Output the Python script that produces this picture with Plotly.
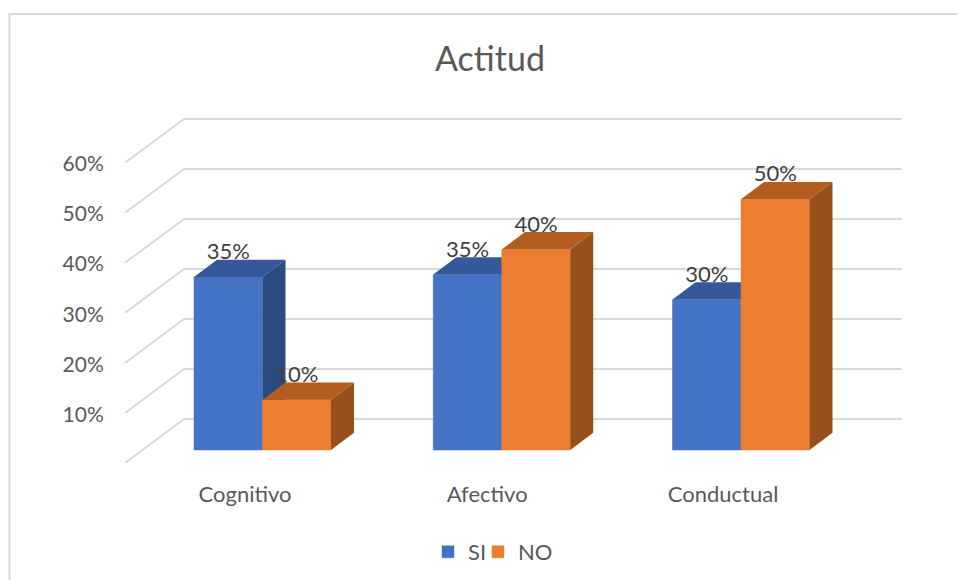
import plotly.graph_objects as go

categories = ["Cognitivo", "Afectivo", "Conductual"]
si_values = [34.5, 35, 30]
no_values = [10, 40, 50]
si_labels = ["35%", "35%", "30%"]
no_labels = ["10%", "40%", "50%"]
y_ticks = [0, 10, 20, 30, 40, 50, 60]
y_tick_labels = ["0%", "10%", "20%", "30%", "40%", "50%", "60%"]

W, H = 957, 580
PX_PER_CAT = 239.25
PX_PER_PCT = 5.015
X0_PX, Y0_PX = 262.5, 450
L_PX, R_PX, T_PX, B_PX = 125, 902, 100, 463
FONT = "Lato"
GREY = "#d9d9d9"


def dx(px):
    return px / PX_PER_CAT


def dy(px):
    return px / PX_PER_PCT


x_range = [dx(L_PX - X0_PX), dx(R_PX - X0_PX)]
y_range = [dy(Y0_PX - B_PX), dy(Y0_PX - T_PX)]
BAR_W = dx(68.5)
DEPTH_X, DEPTH_Y = dx(23), dy(17.3)
FRONT_SHIFT = dy(Y0_PX - B_PX)
BACK_SHIFT = dy(Y0_PX - 419)
BACK_X = dx(184 - X0_PX)
LABEL_DROP = dy(5)
TICK_DROP = dy(1.3)

fig = go.Figure()

# Receding gridlines: front edge, back wall
for t in y_ticks:
    fig.add_trace(go.Scatter(
        x=[x_range[0], BACK_X, x_range[1]],
        y=[t * 0.998 + FRONT_SHIFT, t * 0.997 + BACK_SHIFT, t * 0.997 + BACK_SHIFT],
        mode="lines", line=dict(color=GREY, width=2),
        showlegend=False, hoverinfo="skip", xaxis="x", yaxis="y", cliponaxis=False))


def add_series(name, values, left_offset, front, top, side, xa, ya, legend):
    fig.add_trace(go.Bar(
        x=list(range(len(values))), y=values, name=name, width=BAR_W,
        offset=left_offset, marker=dict(color=front, line=dict(color=front, width=0.5)),
        xaxis=xa, yaxis=ya, legend=legend, showlegend=True))
    tx, ty, sx, sy = [], [], [], []
    for i, v in enumerate(values):
        a = i + left_offset
        b = a + BAR_W
        tx += [a, a + DEPTH_X, b + DEPTH_X, b, a, None]
        ty += [v, v + DEPTH_Y, v + DEPTH_Y, v, v, None]
        sx += [b, b + DEPTH_X, b + DEPTH_X, b, b, None]
        sy += [0, DEPTH_Y, v + DEPTH_Y, v, 0, None]
    fig.add_trace(go.Scatter(x=tx, y=ty, mode="none", fill="toself", fillcolor=top,
                             showlegend=False, hoverinfo="skip", xaxis=xa, yaxis=ya))
    fig.add_trace(go.Scatter(x=sx, y=sy, mode="none", fill="toself", fillcolor=side,
                             showlegend=False, hoverinfo="skip", xaxis=xa, yaxis=ya))


add_series("SI", si_values, -BAR_W, "#4472C4", "#36589A", "#2B4A80", "x2", "y2", "legend")
add_series("NO", no_values, 0, "#ED7D31", "#B35D20", "#97501B", "x3", "y3", "legend2")

# Data labels sit on the top face of each bar
lab_x, lab_y, lab_t = [], [], []
for i, (v, t) in enumerate(zip(si_values, si_labels)):
    lab_x.append(i - BAR_W / 2); lab_y.append(v + DEPTH_Y - LABEL_DROP); lab_t.append(t)
for i, (v, t) in enumerate(zip(no_values, no_labels)):
    lab_x.append(i + BAR_W / 2); lab_y.append(v + DEPTH_Y - LABEL_DROP); lab_t.append(t)
fig.add_trace(go.Scatter(
    x=lab_x, y=lab_y, text=lab_t, mode="text", textposition="top center",
    textfont=dict(family=FONT, size=22, color="#404040"),
    showlegend=False, hoverinfo="skip", xaxis="x3", yaxis="y3", cliponaxis=False))

x_dom = [L_PX / W, R_PX / W]
y_dom = [1 - B_PX / H, 1 - T_PX / H]
hidden = dict(visible=False, fixedrange=True)
legend_style = dict(orientation="h", y=1 - 552 / H, xanchor="left", yanchor="middle",
                    font=dict(family=FONT, size=22, color="#595959"), itemclick=False,
                    itemdoubleclick=False, bgcolor="rgba(0,0,0,0)")

fig.update_layout(
    width=W, height=H, margin=dict(l=0, r=0, t=0, b=0, autoexpand=False),
    paper_bgcolor="white", plot_bgcolor="rgba(0,0,0,0)",
    barmode="overlay",
    font=dict(family=FONT, color="#595959"),
    title=dict(text="Actitud", x=490 / W, y=1 - 59 / H, xanchor="center", yanchor="middle",
               font=dict(family=FONT, size=34, color="#595959")),
    xaxis=dict(domain=x_dom, range=x_range, showgrid=False, zeroline=False, showline=False,
               tickmode="array", tickvals=[-0.073, 0.939, 1.925], ticktext=categories,
               ticks="outside", ticklen=12, tickcolor="rgba(0,0,0,0)",
               tickfont=dict(family=FONT, size=22, color="#595959"), fixedrange=True),
    yaxis=dict(domain=y_dom, range=y_range, showgrid=False, zeroline=False, showline=False,
               tickmode="array", tickvals=[t * 0.998 + FRONT_SHIFT - TICK_DROP for t in y_ticks],
               ticktext=y_tick_labels, ticks="outside", ticklen=16, tickcolor="rgba(0,0,0,0)",
               tickfont=dict(family=FONT, size=21, color="#595959"), fixedrange=True),
    xaxis2=dict(overlaying="x", matches="x", **hidden),
    yaxis2=dict(overlaying="y", matches="y", **hidden),
    xaxis3=dict(overlaying="x", matches="x", **hidden),
    yaxis3=dict(overlaying="y", matches="y", **hidden),
    legend=dict(x=428 / W, **legend_style),
    legend2=dict(x=478 / W, **legend_style),
    shapes=[dict(type="path", xref="paper", yref="paper",
                 path=f"M {9.5 / W},0 L {9.5 / W},{1 - 14 / H} L 1,{1 - 14 / H}",
                 line=dict(color=GREY, width=2), layer="below")],
)

fig.write_html("out.html", config={"displayModeBar": False},
               post_script="document.body.style.margin='0';")
